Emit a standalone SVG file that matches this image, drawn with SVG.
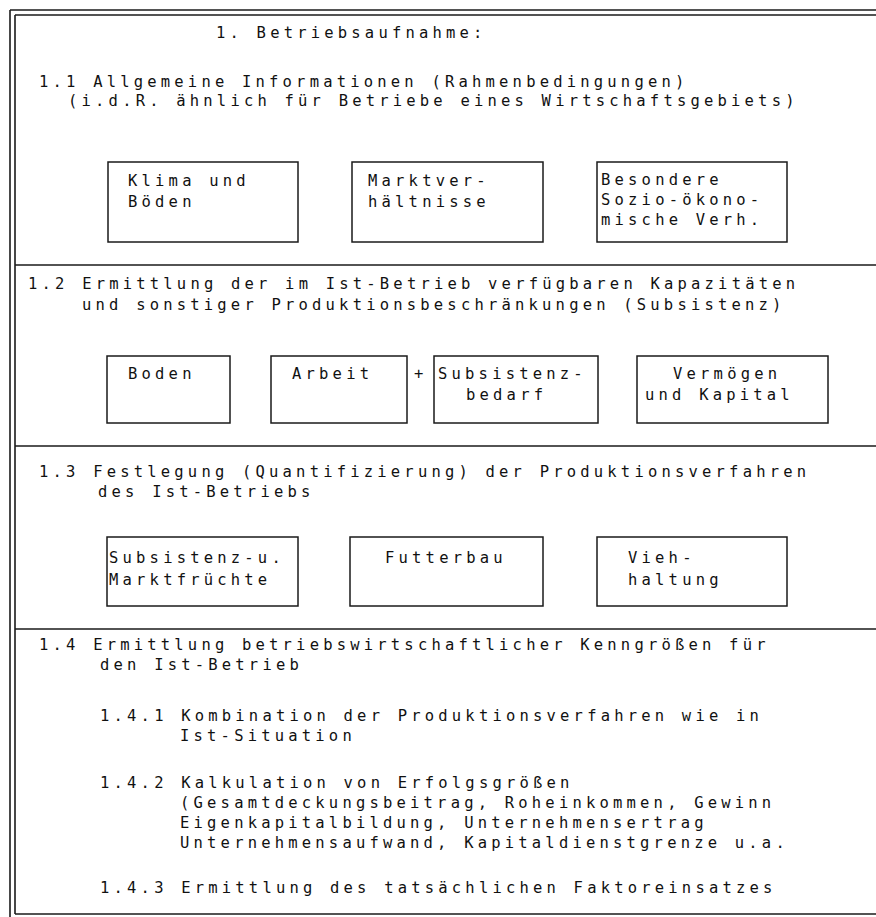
<svg xmlns="http://www.w3.org/2000/svg" width="876" height="917" viewBox="0 0 876 917">
<style>
text{font-family:"DejaVu Sans Mono","Liberation Mono",monospace;font-size:15.5px;letter-spacing:4.2px;fill:#111}
.ln{stroke:#1a1a1a;stroke-width:1.6;fill:none}
.bx{stroke:#1a1a1a;stroke-width:1.5;fill:none}
</style>
<g id="frame">
<line class="ln" x1="10" y1="10" x2="10" y2="917"/>
<line class="ln" x1="10" y1="10" x2="876" y2="10"/>
<line class="ln" x1="15" y1="15" x2="15" y2="914"/>
<line class="ln" x1="15" y1="15" x2="876" y2="15"/>
<line class="ln" x1="15" y1="914" x2="876" y2="914"/>
<line class="ln" x1="15" y1="265" x2="876" y2="265"/>
<line class="ln" x1="15" y1="446" x2="876" y2="446"/>
<line class="ln" x1="15" y1="629" x2="876" y2="629"/>
</g>
<g id="title"><text x="216" y="38">1. Betriebsaufnahme:</text></g>
<g id="sec11">
<text x="39" y="87">1.1 Allgemeine Informationen (Rahmenbedingungen)</text>
<text x="68" y="106">(i.d.R. ähnlich für Betriebe eines Wirtschaftsgebiets)</text>
</g>
<g id="klima"><rect class="bx" x="108" y="162" width="190" height="80"/><text x="128" y="186">Klima und</text><text x="128" y="207">Böden</text></g>
<g id="markt"><rect class="bx" x="352" y="162" width="191" height="80"/><text x="368" y="186">Marktver-</text><text x="368" y="207">hältnisse</text></g>
<g id="besondere"><rect class="bx" x="597" y="162" width="190" height="80"/><text x="601" y="185">Besondere</text><text x="601" y="205">Sozio-ökono-</text><text x="601" y="225">mische Verh.</text></g>
<g id="sec12">
<text x="28" y="289">1.2 Ermittlung der im Ist-Betrieb verfügbaren Kapazitäten</text>
<text x="82" y="310">und sonstiger Produktionsbeschränkungen (Subsistenz)</text>
</g>
<g id="boden"><rect class="bx" x="107" y="356" width="123" height="67"/><text x="128" y="379">Boden</text></g>
<g id="arbeit"><rect class="bx" x="271" y="356" width="136" height="67"/><text x="292" y="379">Arbeit</text></g>
<g id="plus"><text x="414" y="379">+</text></g>
<g id="subsistenz"><rect class="bx" x="434" y="356" width="164" height="67"/><text x="438" y="379">Subsistenz-</text><text x="466" y="400">bedarf</text></g>
<g id="vermoegen"><rect class="bx" x="637" y="356" width="191" height="67"/><text x="673" y="379">Vermögen</text><text x="645" y="400">und Kapital</text></g>
<g id="sec13">
<text x="39" y="477">1.3 Festlegung (Quantifizierung) der Produktionsverfahren</text>
<text x="98" y="497">des Ist-Betriebs</text>
</g>
<g id="marktfruechte"><rect class="bx" x="107" y="537" width="191" height="69"/><text x="109" y="563">Subsistenz-u.</text><text x="109" y="585">Marktfrüchte</text></g>
<g id="futterbau"><rect class="bx" x="350" y="537" width="193" height="69"/><text x="385" y="563">Futterbau</text></g>
<g id="viehhaltung"><rect class="bx" x="597" y="537" width="190" height="69"/><text x="628" y="563">Vieh-</text><text x="628" y="585">haltung</text></g>
<g id="sec14">
<text x="39" y="650">1.4 Ermittlung betriebswirtschaftlicher Kenngrößen für</text>
<text x="100" y="670">den Ist-Betrieb</text>
<text x="100" y="721">1.4.1 Kombination der Produktionsverfahren wie in</text>
<text x="180" y="741">Ist-Situation</text>
<text x="100" y="788">1.4.2 Kalkulation von Erfolgsgrößen</text>
<text x="180" y="808">(Gesamtdeckungsbeitrag, Roheinkommen, Gewinn</text>
<text x="180" y="828">Eigenkapitalbildung, Unternehmensertrag</text>
<text x="180" y="848">Unternehmensaufwand, Kapitaldienstgrenze u.a.</text>
<text x="100" y="893">1.4.3 Ermittlung des tatsächlichen Faktoreinsatzes</text>
</g>
</svg>
